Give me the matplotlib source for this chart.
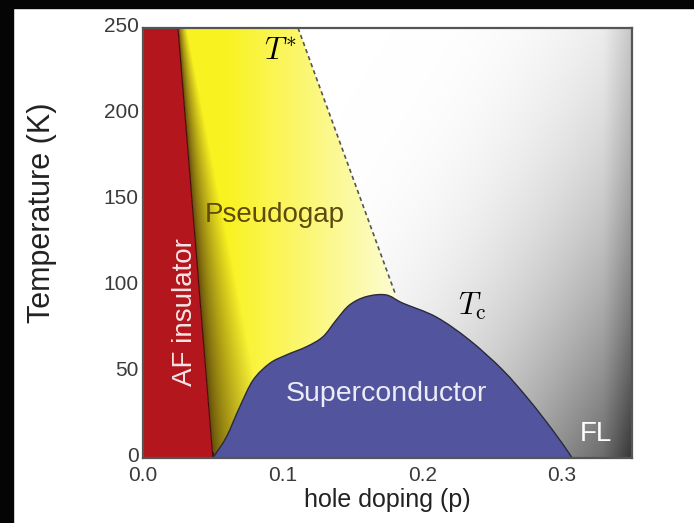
import numpy as np
import matplotlib.pyplot as plt
import matplotlib.transforms as mtransforms
from matplotlib.patches import Polygon, Rectangle, PathPatch
from matplotlib.path import Path

plt.rcParams['font.family'] = ['Liberation Sans', 'DejaVu Sans']
plt.rcParams['mathtext.fontset'] = 'cm'

# AF insulator boundary (p, T)
af_p = [0.0, 0.050, 0.025, 0.0]
af_T = [0.0, 0.0, 250.0, 250.0]

# superconducting dome
dome_p = [0.050, 0.0514, 0.0598, 0.0693, 0.0788, 0.0907, 0.1026, 0.117, 0.1288,
          0.1383, 0.1479, 0.1598, 0.174, 0.186, 0.2098, 0.2336, 0.2574, 0.2764,
          0.2931, 0.305, 0.307]
dome_T = [0.0, 1.7, 12.4, 29.8, 45.3, 55.0, 59.9, 64.7, 70.5,
          80.2, 89.0, 93.8, 94.8, 90.0, 82.0, 68.6, 51.2, 33.7,
          16.3, 2.7, 0.0]

# T* crossover line
tstar_p = [0.111, 0.181]
tstar_T = [250.0, 94.5]

xticks = [0.0, 0.1, 0.2, 0.3]
xticklabels = ['0.0', '0.1', '0.2', '0.3']
yticks = [0, 50, 100, 150, 200, 250]


def smooth_path(xs, ys):
    # Catmull-Rom through the read points, drawn as cubic Bezier pieces
    pts = np.column_stack([xs, ys])
    n = len(pts)
    verts = [pts[0]]
    codes = [Path.MOVETO]
    for i in range(n - 1):
        p0 = pts[max(i - 1, 0)]
        p1 = pts[i]
        p2 = pts[i + 1]
        p3 = pts[min(i + 2, n - 1)]
        verts += [p1 + (p2 - p0) / 6, p2 - (p3 - p1) / 6, p2]
        codes += [Path.CURVE4] * 3
    verts.append(pts[0])
    codes.append(Path.CLOSEPOLY)
    return Path(verts, codes)


fig = plt.figure(figsize=(6.94, 5.23), dpi=100)
fig.patches.append(Rectangle((0, 0), 13 / 694, 1, transform=fig.transFigure,
                             color='#050505', zorder=-10))
fig.patches.append(Rectangle((0, 1 - 8 / 523), 1, 8 / 523, transform=fig.transFigure,
                             color='#050505', zorder=-10))

ax = fig.add_axes([143 / 694, 65 / 523, 489 / 694, 430 / 523])
xmax = 0.35
ax.set_xlim(0, xmax)
ax.set_ylim(0, 250)

# grey background shading (FL corner)
pp, TT = np.meshgrid(np.linspace(0, xmax, 400), np.linspace(0, 250, 300))
d = np.clip((pp - 0.18) / 0.17 * 0.4 + (1 - TT / 250) * 0.45, 0, 1)
g = 1 - d ** 2.5 - np.clip((pp - 0.33) / 0.02, 0, 1) * 0.12
g = np.clip(g, 0, 1)
ax.imshow(np.dstack([g, g, g]), extent=[0, xmax, 0, 250], origin='lower',
          aspect='auto', zorder=0, interpolation='bilinear')

# pseudogap shading
q = pp - (0.05 - 0.025 * TT / 250)
w = 0.006 + 0.035 * (1 - TT / 250)
b = np.clip(q / w, 0, 1) ** 0.7
s = np.clip((pp - 0.06) / 0.12, 0, 1)
yellow = np.array([0.98, 0.95, 0.13])
pale = np.array([0.99, 0.99, 0.82])
dark = np.array([0.38, 0.29, 0.04])
col = yellow[None, None, :] * (1 - s[..., None]) + pale[None, None, :] * s[..., None]
col = dark[None, None, :] + (col - dark[None, None, :]) * b[..., None]
im = ax.imshow(col, extent=[0, xmax, 0, 250], origin='lower', aspect='auto',
               zorder=1, interpolation='bilinear')
slope = (tstar_p[1] - tstar_p[0]) / (tstar_T[1] - tstar_T[0])
pg_poly = Polygon([(af_p[2], 250), (af_p[1], 0),
                   (tstar_p[0] - slope * 250, 0), (tstar_p[0], 250)],
                  closed=True, transform=ax.transData, facecolor='none', edgecolor='none')
ax.add_patch(pg_poly)
im.set_clip_path(pg_poly)

# AF insulator
ax.add_patch(Polygon(list(zip(af_p, af_T)), closed=True, facecolor='#b3161c',
                     edgecolor='#4a0a0a', linewidth=0.8, zorder=2))

# superconductor dome
ax.add_patch(PathPatch(smooth_path(dome_p, dome_T), facecolor='#52549e',
                       edgecolor='#2a2a3a', linewidth=1.0, zorder=3))

ax.plot(tstar_p, tstar_T, linestyle=(0, (2.5, 2)), color='#555555', linewidth=1.2, zorder=4)

ax.text(0.098, 236, r'$T^{*}$', fontsize=22, ha='center', va='center', zorder=5)
ax.text(0.236, 88, r'$T_{\mathrm{c}}$', fontsize=22, ha='center', va='center', zorder=5)
ax.text(0.094, 141, 'Pseudogap', fontsize=20, color='#5e4a0c', ha='center', va='center', zorder=5)
ax.text(0.030, 85, 'AF insulator', fontsize=20, color='#f6e4e4', rotation=90,
        ha='center', va='center', zorder=5)
ax.text(0.1745, 37, 'Superconductor', fontsize=20.5, color='#ececf6', ha='center',
        va='center', zorder=5)
ax.text(0.324, 14, 'FL', fontsize=20, color='white', ha='center', va='center', zorder=5)

ax.set_xticks(xticks)
ax.set_xticklabels(xticklabels)
ax.set_xticks(np.arange(0.05, 0.35, 0.1), minor=True)
ax.set_yticks(yticks)
ax.tick_params(which='both', direction='in', colors='#222222', labelsize=15, length=4,
               width=1.2, top=False, right=False, zorder=6)
ax.tick_params(axis='x', labelcolor='#3a3a3a', pad=6)
ax.tick_params(axis='y', labelcolor='#3a3a3a', pad=3)
# y tick labels sit a little above their ticks in the original
shift = mtransforms.ScaledTranslation(0, 2.5 / 72, fig.dpi_scale_trans)
for lab in ax.get_yticklabels():
    lab.set_transform(lab.get_transform() + shift)
for sp in ax.spines.values():
    sp.set_color('#555555')
    sp.set_linewidth(1.6)
    sp.set_zorder(6)

ax.set_xlabel('hole doping (p)', fontsize=18, color='#222222', labelpad=2)
ax.set_ylabel('Temperature (K)', fontsize=22, color='#222222')
ax.yaxis.set_label_coords(-0.175, 0.57)

fig.savefig('out.png', dpi=100, facecolor='white')
